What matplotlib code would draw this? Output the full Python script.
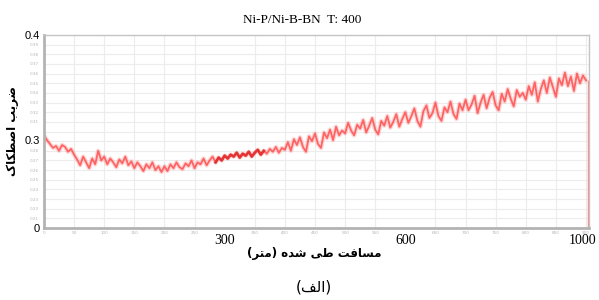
import numpy as np
import matplotlib
matplotlib.use("Agg")
import matplotlib.pyplot as plt

# ---------------- data ----------------
step_m = 5
friction = [
    # 0-95 m
    0.296, 0.291, 0.287, 0.283, 0.285, 0.280, 0.286, 0.284, 0.279, 0.282,
    0.276, 0.271, 0.265, 0.274, 0.268, 0.262, 0.272, 0.266, 0.280, 0.270,
    # 100-195 m
    0.274, 0.266, 0.272, 0.268, 0.263, 0.271, 0.267, 0.274, 0.265, 0.269,
    0.262, 0.268, 0.264, 0.259, 0.266, 0.262, 0.268, 0.260, 0.264, 0.258,
    # 200-295 m
    0.264, 0.259, 0.266, 0.262, 0.268, 0.263, 0.261, 0.267, 0.264, 0.270,
    0.262, 0.268, 0.266, 0.272, 0.265, 0.270, 0.274, 0.268, 0.273, 0.270,
    # 300-395 m
    0.275, 0.272, 0.276, 0.274, 0.278, 0.273, 0.277, 0.275, 0.279, 0.274,
    0.278, 0.281, 0.276, 0.280, 0.277, 0.282, 0.279, 0.284, 0.278, 0.283,
    # 400-495 m
    0.281, 0.289, 0.280, 0.292, 0.286, 0.294, 0.284, 0.279, 0.295, 0.290,
    0.298, 0.287, 0.283, 0.299, 0.293, 0.302, 0.291, 0.305, 0.296, 0.301,
    # 500-595 m
    0.298, 0.309, 0.301, 0.296, 0.307, 0.303, 0.312, 0.299, 0.306, 0.314,
    0.302, 0.297, 0.311, 0.306, 0.316, 0.304, 0.310, 0.318, 0.305, 0.313,
    # 600-695 m
    0.320, 0.309, 0.316, 0.324, 0.311, 0.305, 0.321, 0.327, 0.314, 0.319,
    0.330, 0.316, 0.311, 0.325, 0.320, 0.331, 0.318, 0.313, 0.329, 0.322,
    # 700-795 m
    0.333, 0.322, 0.328, 0.337, 0.319, 0.330, 0.338, 0.324, 0.335, 0.341,
    0.327, 0.322, 0.339, 0.331, 0.344, 0.334, 0.326, 0.343, 0.336, 0.340,
    # 800-895 m
    0.333, 0.347, 0.338, 0.351, 0.331, 0.344, 0.353, 0.340, 0.356, 0.346,
    0.336, 0.355, 0.348, 0.361, 0.347, 0.357, 0.342, 0.360, 0.350, 0.358,
    # 900 m
    0.353,
]
distance = np.arange(len(friction)) * step_m
end_drop_x = [903, 903]
end_drop_y = [0.352, 0.200]
dark_range = (285, 365)

x_major_pos = [300, 600, 895]
x_major_labels = ["300", "600", "1000"]
x_minor_pos = list(range(0, 901, 50))
x_minor_labels = ["" if v in (300, 600) else str(v) for v in x_minor_pos]

y_major_pos = [0.200, 0.291, 0.400]
y_major_labels = ["0", "0.3", "0.4"]
y_minor_pos = [round(0.21 + 0.01 * i, 2) for i in range(19)]
y_minor_labels = ["" if v in (0.29, 0.30) else f"{v:.2f}" for v in y_minor_pos]

title_text = "Ni-P/Ni-B-BN  T: 400"
# Persian text pre-shaped with presentation forms, visual order
ylabel_text = "\uFB8E\uFE8E\uFB91\uFEC4\uFEBB\uFE8D \uFE90\uFBFE\uFEAE\uFEBF"       # ضریب اصطکاک
xlabel_text = "(\uFEAE\uFE98\uFEE3) \uFEE9\uFEAA\uFEB7 \uFBFD\uFEC3 \uFE96\uFED3\uFE8E\uFEB4\uFEE3"  # مسافت طی شده (متر)
caption_text = "(\uFED2\uFEDF\uFE8D)"  # (الف)

# ---------------- figure ----------------
fig = plt.figure(figsize=(5.99, 3.0), dpi=100)
ax = fig.add_axes([44 / 599, 1 - 228 / 300, (589 - 44) / 599, (228 - 35) / 300])

ax.set_xlim(0, 905)
ax.set_ylim(0.2, 0.4)

ax.plot(distance, friction, color="#ff7070", lw=3.2, alpha=0.28, solid_joinstyle="round")
ax.plot(distance, friction, color="#ff4848", lw=1.3, alpha=0.8)
d = np.array(distance)
f = np.array(friction)
m = (d >= dark_range[0]) & (d <= dark_range[1])
ax.plot(d[m], f[m], color="#e02a2a", lw=2.0, alpha=0.85)
ax.plot(end_drop_x, end_drop_y, color="#ff6a6a", lw=1.0, alpha=0.8)

ax.set_xticks(x_major_pos, labels=x_major_labels)
ax.set_xticks(x_minor_pos, labels=x_minor_labels, minor=True)
ax.set_yticks(y_major_pos, labels=y_major_labels)
ax.set_yticks(y_minor_pos, labels=y_minor_labels, minor=True)

ax.tick_params(axis="x", which="major", length=0, pad=4.5, labelsize=10)
ax.tick_params(axis="x", which="minor", length=0, pad=2.5, labelsize=3, labelcolor="#b5b5b5")
ax.tick_params(axis="y", which="major", length=0, pad=3, labelsize=8)
ax.tick_params(axis="y", which="minor", length=0, pad=4, labelsize=3, labelcolor="#b5b5b5")
for lab in ax.get_xticklabels():
    lab.set_fontfamily("Liberation Serif")
for lab in ax.get_yticklabels():
    lab.set_fontfamily("Liberation Sans")

ax.grid(which="minor", color="#ececec", lw=0.8)
ax.grid(which="major", visible=False)
ax.set_axisbelow(True)

for side in ("left", "bottom"):
    ax.spines[side].set_color("#b3b3b3")
    ax.spines[side].set_linewidth(2.0)
for side in ("top", "right"):
    ax.spines[side].set_color("#c4c4c4")
    ax.spines[side].set_linewidth(1.0)

fig.text(302 / 599, 1 - 20 / 300, title_text, ha="center", va="center",
         fontsize=9.5, family="Liberation Serif")
fig.text(13 / 599, 1 - 131 / 300, ylabel_text, ha="center", va="center",
         rotation=90, fontsize=8.5, fontweight="bold", family=["DejaVu Sans"])
fig.text(314 / 599, 1 - 253 / 300, xlabel_text, ha="center", va="center",
         fontsize=8.5, fontweight="bold", family=["DejaVu Sans"])
fig.text(314 / 599, 1 - 287 / 300, caption_text, ha="center", va="center",
         fontsize=11, family=["DejaVu Sans"])

fig.savefig("out.png", dpi=100)
